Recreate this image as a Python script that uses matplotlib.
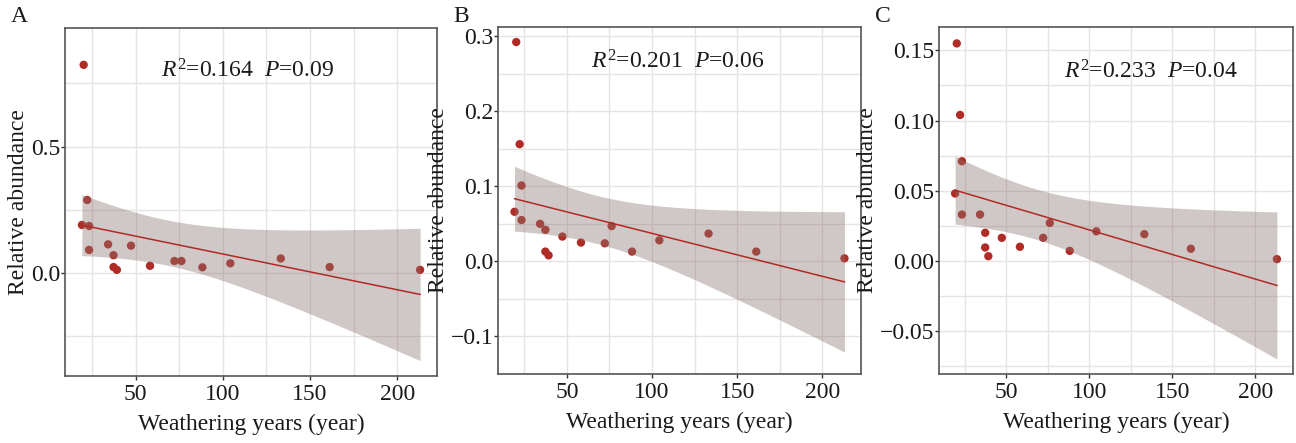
import numpy as np
import matplotlib
matplotlib.use("Agg")
import matplotlib.pyplot as plt

plt.rcParams['font.family'] = ['Liberation Serif', 'DejaVu Serif']
plt.rcParams['mathtext.fontset'] = 'custom'
plt.rcParams['mathtext.rm'] = 'Liberation Serif'
plt.rcParams['mathtext.it'] = 'Liberation Serif:italic'

# Weathering years (same samples in every panel)
years = [19.3, 20.3, 22.3, 23.4, 23.4, 34.3, 37.4, 37.4, 39.3, 47.4,
         58.3, 72.3, 76.3, 88.3, 104.3, 133.2, 161.2, 213.0]

abund_a = [0.189, 0.824, 0.288, 0.185, 0.090, 0.112, 0.069, 0.022, 0.011, 0.107,
           0.027, 0.046, 0.046, 0.021, 0.037, 0.056, 0.022, 0.011]
abund_b = [0.066, 0.292, 0.156, 0.101, 0.055, 0.050, 0.042, 0.013, 0.008, 0.033,
           0.025, 0.024, 0.047, 0.013, 0.028, 0.037, 0.013, 0.004]
abund_c = [0.048, 0.155, 0.104, 0.071, 0.033, 0.033, 0.020, 0.0095, 0.0033, 0.0164,
           0.010, 0.0164, 0.027, 0.0071, 0.021, 0.019, 0.0086, 0.0012]

panels = ['A', 'B', 'C']
stats = [r'$\it{R}^{2}$=0.164  $\it{P}$=0.09',
         r'$\it{R}^{2}$=0.201  $\it{P}$=0.06',
         r'$\it{R}^{2}$=0.233  $\it{P}$=0.04']
stat_pos = [(114, 0.80), (115, 0.265), (137, 0.135)]
ylims = [(-0.41, 0.97), (-0.140, 0.312), (-0.0807, 0.1667)]
yticks = [[0.0, 0.5], [-0.1, 0.0, 0.1, 0.2, 0.3], [-0.05, 0.0, 0.05, 0.10, 0.15]]
yminor = [[-0.25, 0.25, 0.75], [-0.15, -0.05, 0.05, 0.15, 0.25],
          [-0.075, -0.025, 0.025, 0.075, 0.125]]
ytlabels = [['0.0', '0.5'], ['\u22120.1', '0.0', '0.1', '0.2', '0.3'],
            ['\u22120.05', '0.00', '0.05', '0.10', '0.15']]

# axes boxes in pixels: left, right, top, bottom
boxes = [(65, 437, 28, 376), (498, 861, 27, 374), (939, 1293, 27, 374)]
label_pos = [(11, 22), (453, 22), (875, 22)]

W, H = 1296, 443
fig = plt.figure(figsize=(W / 100, H / 100), dpi=100)

pt_col = '#b02a26'
band_col = '#8a7672'
grid_col = '#e8e2e2'
t_crit = 2.12  # t(0.975, df=16)

x = np.array(years)
for i, ys in enumerate([abund_a, abund_b, abund_c]):
    l, r, t, b = boxes[i]
    ax = fig.add_axes([l / W, (H - b) / H, (r - l) / W, (b - t) / H])
    y = np.array(ys)

    # linear fit with 95% confidence band
    n = len(x)
    slope, icpt = np.polyfit(x, y, 1)
    xs = np.linspace(x.min(), x.max(), 100)
    fit = icpt + slope * xs
    resid = y - (icpt + slope * x)
    s = np.sqrt(np.sum(resid ** 2) / (n - 2))
    sxx = np.sum((x - x.mean()) ** 2)
    se = s * np.sqrt(1 / n + (xs - x.mean()) ** 2 / sxx)

    ax.scatter(x, y, s=36, color=pt_col, edgecolors='none', zorder=3)
    ax.fill_between(xs, fit - t_crit * se, fit + t_crit * se, color=band_col,
                    alpha=0.4, linewidth=0, zorder=4)
    ax.plot(xs, fit, color=pt_col, lw=1.1, zorder=5)

    ax.set_xlim(9.6, 222.7)
    ax.set_ylim(*ylims[i])
    ax.set_xticks([50, 100, 150, 200])
    ax.set_xticks([25, 75, 125, 175], minor=True)
    ax.set_yticks(yticks[i])
    ax.set_yticklabels(ytlabels[i])
    ax.set_yticks(yminor[i], minor=True)
    ax.grid(True, which='both', color=grid_col, lw=1.0, zorder=0)
    ax.set_axisbelow(True)
    ax.tick_params(which='minor', length=0)
    ax.tick_params(which='major', length=3, width=1, color='#333333',
                   labelsize=17, labelcolor='#1a1a1a')
    ax.tick_params(axis='x', pad=3)
    ax.tick_params(axis='y', pad=0.5)
    for sp in ax.spines.values():
        sp.set_color('#555555')
        sp.set_linewidth(1.2)

    ax.set_xlabel('Weathering years (year)', fontsize=17, color='#1a1a1a', labelpad=6)
    ax.set_ylabel('Relative abundance', fontsize=17, color='#1a1a1a', labelpad=1)
    ax.text(stat_pos[i][0], stat_pos[i][1], stats[i], fontsize=17,
            ha='center', va='center', color='#1a1a1a', zorder=6)

    fig.text(label_pos[i][0] / W, 1 - label_pos[i][1] / H, panels[i],
             fontsize=17, ha='left', va='baseline', color='#1a1a1a')

fig.savefig('out.png', dpi=100)
